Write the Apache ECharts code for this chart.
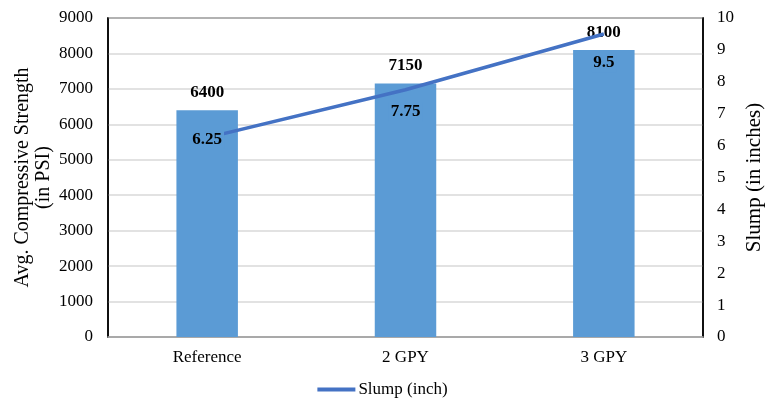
<!DOCTYPE html>
<html><head><meta charset="utf-8">
<script src="https://cdn.jsdelivr.net/npm/echarts@6/dist/echarts.min.js"></script>
<style>html,body{margin:0;padding:0;background:#fff}#c{width:765px;height:410px}</style>
</head><body><div id="c"></div>
<script>
const categories = ['Reference', '2 GPY', '3 GPY'];
const strength = [6400, 7150, 8100];
const slump = [6.25, 7.75, 9.5];
const leftTicks = [0, 9000, 1000];
const rightTicks = [0, 10, 1];

const font = 'Liberation Serif';
const lineLabelDy = [2, 22, 29];
const plain = v => String(v);
const chart = echarts.init(document.getElementById('c'));
chart.setOption({
  animation: false,
  textStyle: { fontFamily: font },
  grid: { left: 108, right: 62, top: 18, bottom: 73, containLabel: false, outerBoundsMode: 'none',
    show: true, borderColor: '#000', borderWidth: 1.5, backgroundColor: 'transparent' },
  legend: {
    data: [{ name: 'Slump (inch)', icon: 'rect' }], bottom: 7, left: 'center',
    itemWidth: 38, itemHeight: 4, itemGap: 4,
    textStyle: { fontFamily: font, fontSize: 17, color: '#000', padding: [0, 0, 0, -2] }
  },
  xAxis: {
    type: 'category', data: categories,
    axisLine: { lineStyle: { color: '#a6a6a6', width: 1.5 } },
    axisTick: { show: false },
    axisLabel: { fontFamily: font, fontSize: 17, color: '#000', margin: 12 }
  },
  yAxis: [{
    type: 'value', min: leftTicks[0], max: leftTicks[1], interval: leftTicks[2],
    name: 'Avg. Compressive Strength\n(in PSI)', nameLocation: 'middle', nameGap: 54, nameMoveOverlap: false,
    nameTextStyle: { fontFamily: font, fontSize: 20, color: '#000', lineHeight: 21 },
    axisLine: { show: true, lineStyle: { color: '#000', width: 1.5 } },
    axisTick: { show: false },
    axisLabel: { fontFamily: font, fontSize: 17, color: '#000', margin: 15, formatter: plain },
    splitLine: { lineStyle: { color: '#d9d9d9', width: 1.5 } }
  }, {
    type: 'value', min: rightTicks[0], max: rightTicks[1], interval: rightTicks[2],
    name: 'Slump (in inches)', nameLocation: 'middle', nameGap: 41, nameRotate: 90, nameMoveOverlap: false,
    nameTextStyle: { fontFamily: font, fontSize: 21, color: '#000' },
    axisLine: { show: true, lineStyle: { color: '#000', width: 1.5 } },
    axisTick: { show: false },
    axisLabel: { fontFamily: font, fontSize: 17, color: '#000', margin: 14, formatter: plain },
    splitLine: { show: false }
  }],
  series: [{
    name: 'Avg. Compressive Strength', type: 'bar', data: strength, yAxisIndex: 0,
    barWidth: '31%', itemStyle: { color: '#5b9bd5' },
    label: { show: true, position: 'top', distance: 9, fontFamily: font, fontSize: 17, fontWeight: 'bold', color: '#000' }
  }, {
    name: 'Slump (inch)', type: 'line', yAxisIndex: 1, z: 5,
    data: slump.map((v, i) => ({ value: v, label: { offset: [0, lineLabelDy[i]] } })),
    symbol: 'circle', symbolSize: 1, showSymbol: true,
    lineStyle: { color: '#4472c4', width: 3.5 }, itemStyle: { color: '#4472c4' },
    label: { show: true, position: 'inside', fontFamily: font, fontSize: 17, fontWeight: 'bold', color: '#000',
      backgroundColor: '#5b9bd5', padding: [1, 2] }
  }]
});
</script></body></html>
